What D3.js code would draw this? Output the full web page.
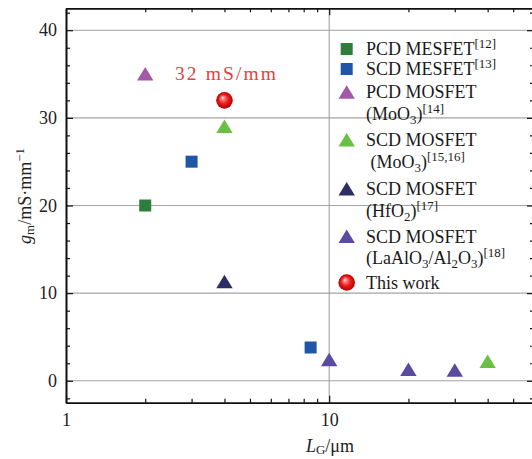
<!DOCTYPE html>
<html>
<head>
<meta charset="utf-8">
<script src="https://cdn.jsdelivr.net/npm/d3@7"></script>
<style>
body{margin:0;background:#fff;}
svg{display:block;font-family:"Liberation Serif","Times New Roman",serif;}
</style>
</head>
<body>
<svg width="532" height="459"></svg>
<script>
// values: [gate length (um), gm (mS/mm)]
var pcdMesfet   = [[2, 20]];
var scdMesfet   = [[3, 25], [8.5, 3.8]];
var pcdMoo3     = [[2, 35]];
var scdMoo3     = [[4, 29], [40, 2.2]];
var scdHfo2     = [[4, 11.3]];
var scdLaalo3   = [[10, 2.4], [20, 1.3], [30, 1.2]];
var thisWork    = [[4, 32]];

var yMajor = [0, 10, 20, 30, 40];
var xMajor = [1, 10];
var xMinor = [2, 3, 4, 5, 6, 7, 8, 9, 20, 30, 40, 50];

var legendNames = [
  ["PCD MESFET^{[12]}"],
  ["SCD MESFET^{[13]}"],
  ["PCD MOSFET", "(MoO_{3})^{[14]}"],
  ["SCD MOSFET", " (MoO_{3})^{[15,16]}"],
  ["SCD MOSFET", "(HfO_{2})^{[17]}"],
  ["SCD MOSFET", "(LaAlO_{3}/Al_{2}O_{3})^{[18]}"],
  ["This work"]
];

var series = [
  {pts: pcdMesfet, shape: "square",   color: "#2e7d3d"},
  {pts: scdMesfet, shape: "square",   color: "#1f56a8"},
  {pts: pcdMoo3,   shape: "triangle", color: "#a35aa6"},
  {pts: scdMoo3,   shape: "triangle", color: "#6cbf45"},
  {pts: scdHfo2,   shape: "triangle", color: "#2c2d63"},
  {pts: scdLaalo3, shape: "triangle", color: "#5a4ba0"},
  {pts: thisWork,  shape: "ball",     color: "#e82020"}
];

var svg = d3.select("svg"),
    margin = {top: 8.3, left: 66},
    width = 468,
    height = 394.4;

var x = d3.scaleLog().domain([1, 60]).range([0, width]);
var y = d3.scaleLinear().domain([-2.5, 42.5]).range([height, 0]);

var defs = svg.append("defs");
var grad = defs.append("radialGradient").attr("id", "ball")
    .attr("cx", "50%").attr("cy", "50%").attr("r", "50%")
    .attr("fx", "38%").attr("fy", "33%");
grad.append("stop").attr("offset", "0%").attr("stop-color", "#ffffff");
grad.append("stop").attr("offset", "18%").attr("stop-color", "#ff8a8a");
grad.append("stop").attr("offset", "55%").attr("stop-color", "#ef1f1f");
grad.append("stop").attr("offset", "100%").attr("stop-color", "#b30000");

var g = svg.append("g")
    .attr("transform", "translate(" + margin.left + "," + margin.top + ")");

// text with ^{sup}, _{sub} and *italic*
function rich(text, str, fs, subShift) {
  var parts = str.split(/(\^\{[^}]*\}|_\{[^}]*\}|\*[^*]*\*)/).filter(function(s){ return s.length; });
  var shift = 0;
  parts.forEach(function(p) {
    var t = text.append("tspan"), target = 0, s = fs, it = false;
    if (p[0] === "^") { target = -0.38 * fs; s = fs * 0.72; p = p.slice(2, -1); }
    else if (p[0] === "_") { target = (subShift || 0.24) * fs; s = fs * 0.72; p = p.slice(2, -1); }
    else if (p[0] === "*") { it = true; p = p.slice(1, -1); }
    t.attr("dy", target - shift).style("font-size", s + "px").text(p);
    if (it) t.style("font-style", "italic");
    shift = target;
  });
}

function marker(sel, shape, color) {
  if (shape === "square") {
    sel.append("rect").attr("x", -6).attr("y", -6).attr("width", 12).attr("height", 12)
       .attr("fill", color);
  } else if (shape === "triangle") {
    sel.append("path").attr("d", "M0,-7L8.2,6.5L-8.2,6.5Z").attr("fill", color);
  } else {
    sel.append("circle").attr("r", 8.3).attr("fill", "url(#ball)");
  }
}

// grid
g.selectAll(".hgrid").data(yMajor).enter().append("line")
  .attr("x1", 0).attr("x2", width)
  .attr("y1", function(d){ return y(d); }).attr("y2", function(d){ return y(d); })
  .attr("stroke", "#a3a3a3").attr("stroke-width", 1.1);
g.append("line")
  .attr("x1", x(10)).attr("x2", x(10)).attr("y1", 0).attr("y2", height)
  .attr("stroke", "#a3a3a3").attr("stroke-width", 1.1);

// axes
function styleAxis(a) {
  a.select(".domain").attr("stroke", "#111").attr("stroke-width", 1.6);
  a.selectAll(".tick line").attr("stroke", "#111").attr("stroke-width", 1.2);
  a.selectAll("text").style("font-size", "18px").style("font-family", "Liberation Serif").attr("fill", "#222");
}

var yMinor = d3.range(-2, 43, 2).filter(function(d){ return d % 10; });

g.append("g").call(d3.axisLeft(y).tickValues(yMajor).tickSizeInner(-7).tickSizeOuter(0).tickPadding(9))
  .call(styleAxis);
g.append("g").call(d3.axisLeft(y).tickValues(yMinor).tickSizeInner(-4).tickSizeOuter(0).tickFormat(""))
  .call(styleAxis);
g.append("g").attr("transform", "translate(" + width + ",0)")
  .call(d3.axisRight(y).tickValues(yMajor).tickSizeInner(-7).tickSizeOuter(0).tickFormat(""))
  .call(styleAxis);
g.append("g").attr("transform", "translate(" + width + ",0)")
  .call(d3.axisRight(y).tickValues(yMinor).tickSizeInner(-4).tickSizeOuter(0).tickFormat(""))
  .call(styleAxis);

g.append("g").attr("transform", "translate(0," + height + ")")
  .call(d3.axisBottom(x).tickValues(xMajor).tickSizeInner(-7).tickSizeOuter(0).tickPadding(10.5)
  .tickFormat(d3.format("d")))
  .call(styleAxis);
g.append("g").attr("transform", "translate(0," + height + ")")
  .call(d3.axisBottom(x).tickValues(xMinor).tickSizeInner(-4).tickSizeOuter(0).tickFormat(""))
  .call(styleAxis);
g.append("g")
  .call(d3.axisTop(x).tickValues(xMajor).tickSizeInner(-7).tickSizeOuter(0).tickFormat(""))
  .call(styleAxis);
g.append("g")
  .call(d3.axisTop(x).tickValues(xMinor).tickSizeInner(-4).tickSizeOuter(0).tickFormat(""))
  .call(styleAxis);

// axis titles
var yl = svg.append("text")
  .attr("transform", "translate(31,196) rotate(-90)")
  .attr("text-anchor", "middle").attr("fill", "#222");
rich(yl, "*g*_{m}/mS·mm^{−1}", 18, 0.15);

var xl = svg.append("text")
  .attr("x", 330).attr("y", 452)
  .attr("text-anchor", "middle").attr("fill", "#222");
rich(xl, "*L*_{G}/μm", 18, 0.1);

// points
series.forEach(function(s) {
  g.selectAll(null).data(s.pts).enter().append("g")
    .attr("transform", function(d){ return "translate(" + x(d[0]) + "," + y(d[1]) + ")"; })
    .each(function(){ marker(d3.select(this), s.shape, s.color); });
});

// red annotation
svg.append("text")
  .attr("x", 175).attr("y", 80)
  .attr("fill", "#e8403f").style("font-size", "19.5px")
  .attr("textLength", 101).attr("lengthAdjust", "spacing")
  .text("32 mS/mm");

// legend
var legendY = [55, 75, 98.3, 146, 195, 242.5, 288.5];
var leg = svg.append("g");
legendNames.forEach(function(lines, i) {
  var m = leg.append("g").attr("transform", "translate(346.7," + (legendY[i] - 6) + ")");
  marker(m, series[i].shape, series[i].color);
  lines.forEach(function(line, j) {
    var t = leg.append("text").attr("x", 366).attr("y", legendY[i] + j * 21.5)
      .attr("fill", "#1a1a1a").style("font-size", "18px").attr("xml:space", "preserve")
      .style("white-space", "pre");
    rich(t, line, 18);
  });
});
</script>
</body>
</html>
